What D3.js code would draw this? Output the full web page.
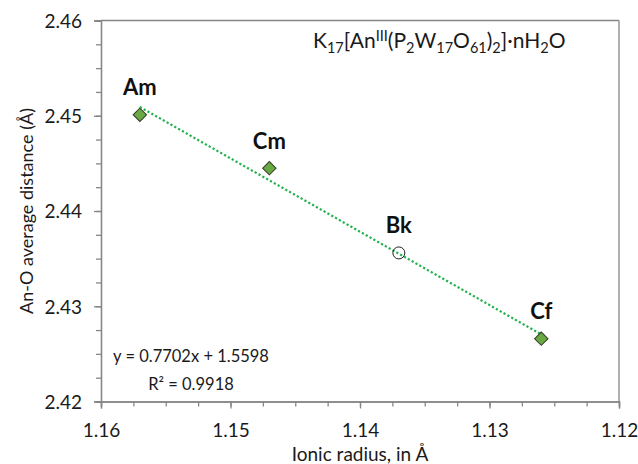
<!DOCTYPE html>
<html>
<head>
<meta charset="utf-8">
<script src="https://cdn.jsdelivr.net/npm/d3@7"></script>
<style>
  html, body { margin: 0; padding: 0; background: #fff; }
  svg { display: block; font-family: Lato, "Open Sans", sans-serif; }
</style>
</head>
<body>
<svg id="chart" width="638" height="464"></svg>
<script>
// ---- data ----
const elements = ["Am", "Cm", "Bk", "Cf"];
const ionicRadius = [1.157, 1.147, 1.137, 1.126];
const avgDistance = [2.4501, 2.4445, 2.4356, 2.4266];
const markerKind = ["diamond", "diamond", "circle", "diamond"];
const xTicks = [1.16, 1.15, 1.14, 1.13, 1.12];
const yTicks = [2.42, 2.43, 2.44, 2.45, 2.46];
const fitSlope = 0.7702;
const fitIntercept = 1.5598;
const fitRange = [1.157, 1.126];
const equationLines = ["y = 0.7702x + 1.5598", "R² = 0.9918"];

// ---- layout ----
const L = 101, R = 619, T = 20.5, B = 401.5;
const axisColor = "#868686";

const svg = d3.select("#chart");
const x = d3.scaleLinear().domain([1.16, 1.12]).range([L, R]);
const y = d3.scaleLinear().domain([2.42, 2.46]).range([B, T]);

// minor ticks
const xMinor = d3.range(0, 17).map(i => +(1.16 - i * 0.0025).toFixed(4));
const yMinor = d3.range(0, 17).map(i => +(2.42 + i * 0.0025).toFixed(4));

const gxMinor = svg.append("g").attr("transform", `translate(0,${B})`)
  .call(d3.axisBottom(x).tickValues(xMinor).tickSize(5).tickFormat(""));
const gyMinor = svg.append("g").attr("transform", `translate(${L},0)`)
  .call(d3.axisLeft(y).tickValues(yMinor).tickSize(5).tickFormat(""));

const gx = svg.append("g").attr("transform", `translate(0,${B})`)
  .call(d3.axisBottom(x).tickValues(xTicks).tickSize(7).tickPadding(16).tickFormat(d3.format(".2f")));
const gy = svg.append("g").attr("transform", `translate(${L},0)`)
  .call(d3.axisLeft(y).tickValues(yTicks).tickSize(7).tickPadding(12).tickFormat(d3.format(".2f")));

[gxMinor, gyMinor, gx, gy].forEach(g => {
  g.selectAll("path").attr("stroke", axisColor).attr("stroke-width", 1.3);
  g.selectAll("line").attr("stroke", axisColor).attr("stroke-width", 1.3);
  g.selectAll("text").attr("fill", "#1a1a1a").style("font-family", "Lato, sans-serif").style("font-size", "19px");
});
gx.selectAll("text").attr("dy", "0.66em");
gy.selectAll("text").attr("dy", "0.36em");

// top & right frame
svg.append("line").attr("x1", L).attr("x2", R).attr("y1", T).attr("y2", T)
  .attr("stroke", axisColor).attr("stroke-width", 1.3);
svg.append("line").attr("x1", R).attr("x2", R).attr("y1", T).attr("y2", B)
  .attr("stroke", axisColor).attr("stroke-width", 1.3);

// axis titles
svg.append("text").attr("x", (L + R) / 2).attr("y", 460.5)
  .attr("text-anchor", "middle").style("font-size", "19px").attr("fill", "#1a1a1a")
  .text("Ionic radius, in Å");
svg.append("text").attr("transform", `translate(33,${(T + B) / 2}) rotate(-90)`)
  .attr("text-anchor", "middle").style("font-size", "18px").attr("fill", "#1a1a1a")
  .text("An-O average distance (Å)");

// trendline
svg.append("line")
  .attr("x1", x(fitRange[0])).attr("y1", y(fitSlope * fitRange[0] + fitIntercept))
  .attr("x2", x(fitRange[1])).attr("y2", y(fitSlope * fitRange[1] + fitIntercept))
  .attr("stroke", "#22b14c").attr("stroke-width", 2.2)
  .attr("stroke-dasharray", "2.2 2.2");

// markers
const pts = elements.map((e, i) => ({ name: e, x: ionicRadius[i], y: avgDistance[i], kind: markerKind[i] }));
const diamond = d3.symbol().type(d3.symbolSquare).size(90);
pts.forEach(p => {
  if (p.kind === "diamond") {
    svg.append("path").attr("d", diamond())
      .attr("transform", `translate(${x(p.x)},${y(p.y)}) rotate(45)`)
      .attr("fill", "#6aa842").attr("stroke", "#2f3b26").attr("stroke-width", 1);
  } else {
    svg.append("circle").attr("cx", x(p.x)).attr("cy", y(p.y)).attr("r", 6)
      .attr("fill", "none").attr("stroke", "#222").attr("stroke-width", 1);
  }
  svg.append("text").attr("x", x(p.x)).attr("y", y(p.y) - 19.5)
    .attr("text-anchor", "middle").style("font-size", "22px").style("font-weight", "bold")
    .attr("fill", "#111").text(p.name);
});

// equation
equationLines.forEach((t, i) => {
  svg.append("text").attr("x", 191).attr("y", 362 + i * 27.5)
    .attr("text-anchor", "middle").style("font-size", "16.5px").attr("fill", "#1a1a1a").text(t);
});

// title with sub/superscripts
const title = svg.append("text").attr("x", 313).attr("y", 48).style("font-size", "21px").attr("fill", "#1a1a1a");
const parts = [
  ["K", 0], ["17", -1], ["[An", 0], ["III", 1], ["(P", 0], ["2", -1], ["W", 0], ["17", -1],
  ["O", 0], ["61", -1], [")", 0], ["2", -1], ["]·nH", 0], ["2", -1], ["O", 0]
];
let offset = 0;
parts.forEach(([t, s]) => {
  const target = s === -1 ? 5 : s === 1 ? -7.5 : 0;
  const ts = title.append("tspan").text(t).attr("dy", target - offset);
  if (s !== 0) ts.style("font-size", "14.5px");
  offset = target;
});
</script>
</body>
</html>
